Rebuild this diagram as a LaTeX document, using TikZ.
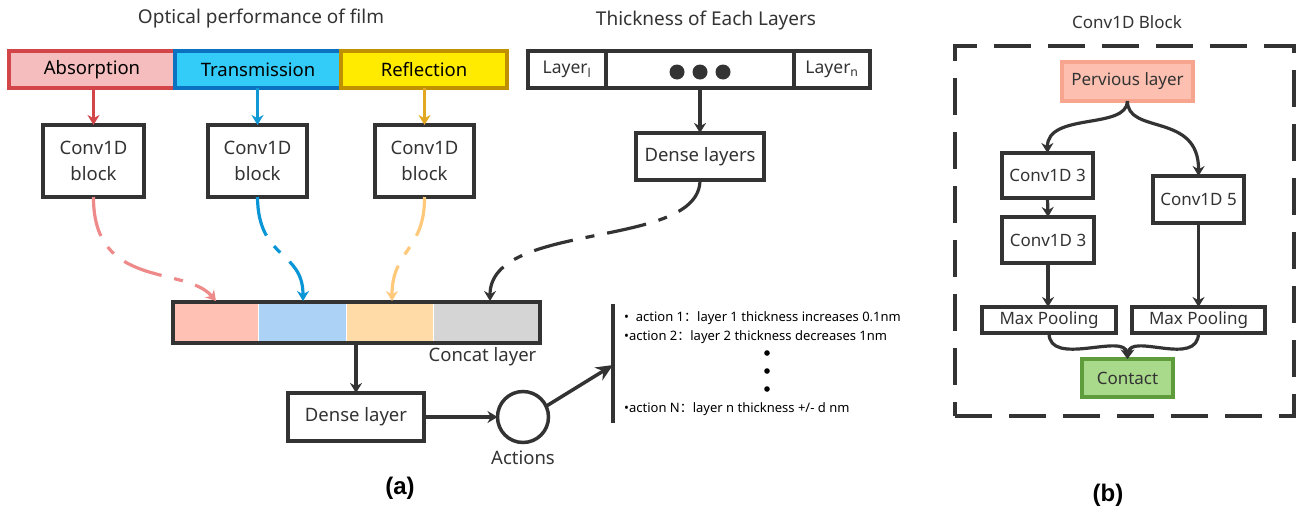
\documentclass[tikz,border=0pt]{standalone}
\usepackage{fontspec}
\setmainfont{Noto Sans}
\newfontfamily\cjk{Noto Sans CJK SC}
\newfontfamily\labfont{Liberation Sans}
\usetikzlibrary{arrows.meta}
\definecolor{dk}{HTML}{333333}
\definecolor{absB}{HTML}{D24549}
\definecolor{absF}{HTML}{F5BDBD}
\definecolor{traB}{HTML}{0B72C2}
\definecolor{traF}{HTML}{33CBF7}
\definecolor{refB}{HTML}{BF9000}
\definecolor{refF}{HTML}{FFEB00}
\definecolor{arR}{HTML}{D24549}
\definecolor{arB}{HTML}{1199D6}
\definecolor{arY}{HTML}{E2A823}
\definecolor{dsR}{HTML}{EE8A8A}
\definecolor{dsB}{HTML}{0A96D6}
\definecolor{dsY}{HTML}{FFC97C}
\definecolor{ccA}{HTML}{FFC1B3}
\definecolor{ccB}{HTML}{ACD2F5}
\definecolor{ccC}{HTML}{FFDBA8}
\definecolor{ccD}{HTML}{D5D5D5}
\definecolor{plF}{HTML}{FDC0B0}
\definecolor{plB}{HTML}{F8A58F}
\definecolor{ctF}{HTML}{A9D98B}
\definecolor{ctB}{HTML}{5E9C3C}
\begin{document}
\begin{tikzpicture}[x=1pt,y=-1pt,
  every node/.style={text=dk},
  bigfont/.style={font=\fontsize{18.5}{26}\selectfont},
  titlefont/.style={font=\fontsize{19}{22}\selectfont},
  midfont/.style={font=\fontsize{17}{20}\selectfont},
  labf/.style={font=\labfont\bfseries\fontsize{24}{28}\selectfont, text=black},
  blk/.style={draw=dk, line width=3.5pt, fill=white, inner sep=0pt, outer sep=0pt, align=center},
  cbox/.style={line width=3.5pt, inner sep=0pt, outer sep=0pt, bigfont, text=black},
  conn/.style={draw=dk, line width=3.2pt, -{Stealth[length=10pt,width=12pt]}},
  dsh/.style={line width=3.2pt, dash pattern=on 40pt off 13pt on 9pt off 13pt, -{Stealth[length=10pt,width=12pt]}},
  acttext/.style={anchor=west, font=\fontsize{13}{15}\selectfont, text=black, inner sep=0pt}
]
\useasboundingbox (0,0) rectangle (1301,512);

% ---------- panel (a) ----------
\node[titlefont] (t1) at (261,19) {Optical performance of film};
\node[cbox, draw=absB, fill=absF, minimum width=166pt, minimum height=37pt] (abs) at (92,69.5) {Absorption};
\node[cbox, draw=traB, fill=traF, minimum width=166pt, minimum height=37pt] (tra) at (258,69.5) {Transmission};
\node[cbox, draw=refB, fill=refF, minimum width=166pt, minimum height=37pt] (ref) at (424,69.5) {Reflection};

\node[blk, bigfont, minimum width=101pt, minimum height=72pt] (cb1) at (93.5,161) {Conv1D\\block};
\node[blk, bigfont, minimum width=99pt, minimum height=72pt] (cb2) at (257.5,161) {Conv1D\\block};
\node[blk, bigfont, minimum width=99pt, minimum height=72pt] (cb3) at (424.5,161) {Conv1D\\block};

\draw[conn, draw=arR, arR] (cb1.north |- abs.south) -- (cb1.north);
\draw[conn, draw=arB, arB] (cb2.north |- tra.south) -- (cb2.north);
\draw[conn, draw=arY, arY] (cb3.north |- ref.south) -- (cb3.north);

\node[titlefont] (t2) at (706,21) {Thickness of Each Layers};
\node[blk, font=\fontsize{17.5}{20}\selectfont, minimum width=78pt, minimum height=37pt] (l1) at (567,69.5) {Layer\textsubscript{l}};
\node[blk, minimum width=188pt, minimum height=37pt] (ldots) at (700,69.5) {};
\node[blk, font=\fontsize{17.5}{20}\selectfont, minimum width=76pt, minimum height=37pt] (ln) at (832,69.5) {Layer\textsubscript{n}};
\fill[dk] (677,72) circle (7.5) (700,72) circle (7.5) (723,72) circle (7.5);

\node[blk, bigfont, minimum width=128pt, minimum height=47pt] (dls) at (700,156.5) {Dense layers};
\draw[conn] (ldots.south) -- (dls.north);

% concat layer
\fill[ccA] (173,302) rectangle (258,343);
\fill[ccB] (258,302) rectangle (346,343);
\fill[ccC] (346,302) rectangle (433,343);
\fill[ccD] (433,302) rectangle (540,343);
\draw[white, line width=1pt] (258,302) -- (258,343) (346,302) -- (346,343) (433,302) -- (433,343);
\node[draw=dk, line width=3.5pt, inner sep=0pt, outer sep=0pt, minimum width=367pt, minimum height=41pt] (cc) at (356.5,322.5) {};
\node[bigfont] (cl) at (482.5,357) {Concat layer};

\coordinate (in1) at (216,301);
\coordinate (in2) at (303,301);
\coordinate (in3) at (392,301);
\coordinate (in4) at (490,301);
\draw[dsh, dsR] (cb1.south) .. controls (93,290) and (185,265) .. (in1);
\draw[dsh, dsB] (cb2.south) .. controls (258,260) and (303,250) .. (in2);
\draw[dsh, dsY] (cb3.south) .. controls (425,250) and (392,250) .. (in3);
\draw[dsh, dk] (dls.south) .. controls (700,250) and (490,220) .. (in4);

\node[blk, bigfont, minimum width=136pt, minimum height=48pt] (dl) at (356,417) {Dense layer};
\draw[conn] (cc.south -| dl.north) -- (dl.north);
\node[draw=dk, line width=3.5pt, circle, minimum size=51pt, inner sep=0pt, outer sep=0pt] (act) at (523,417) {};
\draw[conn] (dl.east) -- (act.west);
\node[bigfont] (actl) at (523,458) {Actions};
\node[labf] (la) at (400,488) {(a)};

\coordinate (vt) at (613,304);
\coordinate (vb) at (613,423);
\coordinate (va) at (613,365);
\draw[dk, line width=4pt] (vt) -- (vb);
\draw[draw=dk, line width=3.5pt, -{Stealth[length=17pt,width=15pt]}] (act.25) -- (va);

\node[acttext] (a1) at (624,318) {•\ \ action 1{\cjk ：}layer 1 thickness increases 0.1nm};
\node[acttext] (a2) at (624,337) {•action 2{\cjk ：}layer 2 thickness decreases 1nm};
\fill[black] (767,353) circle (2.8) (767,371) circle (2.8) (767,389) circle (2.8);
\node[acttext] (aN) at (624,409) {•action N{\cjk ：}layer n thickness +/- d nm};

% ---------- panel (b) ----------
\node[midfont] (t3) at (1127,22) {Conv1D Block};
\node[draw=dk, line width=3.5pt, dash pattern=on 37pt off 17pt, inner sep=0pt, minimum width=339pt, minimum height=370pt] (frame) at (1124.5,231) {};
\node[draw=plB, fill=plF, line width=3.5pt, inner sep=0pt, outer sep=0pt, minimum width=131pt, minimum height=39pt, midfont] (pl) at (1127.5,81.5) {Pervious layer};
\node[blk, midfont, minimum width=91pt, minimum height=45pt] (c3a) at (1047.5,175.5) {Conv1D 3};
\node[blk, midfont, minimum width=92pt, minimum height=46pt] (c3b) at (1048,240) {Conv1D 3};
\node[blk, midfont, minimum width=91pt, minimum height=47pt] (c5) at (1198.5,199.5) {Conv1D 5};
\node[blk, midfont, minimum width=134pt, minimum height=26pt] (mp1) at (1049,320) {Max Pooling};
\node[blk, midfont, minimum width=133pt, minimum height=26pt] (mp2) at (1198.5,320) {Max Pooling};
\node[draw=ctB, fill=ctF, line width=3.5pt, inner sep=0pt, outer sep=0pt, minimum width=91pt, minimum height=38pt, midfont] (ct) at (1127.5,378) {Contact};
\node[labf] (lb) at (1108,495) {(b)};

\draw[conn] (pl.south) .. controls (1127,130) and (1047,112) .. (c3a.north);
\draw[conn] (pl.south) .. controls (1127,135) and (1199,112) .. (c5.north);
\draw[conn] (c3a.south) -- (c3b.north);
\draw[conn] (c3b.south) -- (mp1.north -| c3b.south);
\draw[conn] (c5.south) -- (mp2.north -| c5.south);
\draw[conn] (mp1.south) .. controls (1049,368) and (1125,332) .. (ct.north);
\draw[conn] (mp2.south) .. controls (1198,368) and (1130,332) .. (ct.north);
\end{tikzpicture}
\end{document}
